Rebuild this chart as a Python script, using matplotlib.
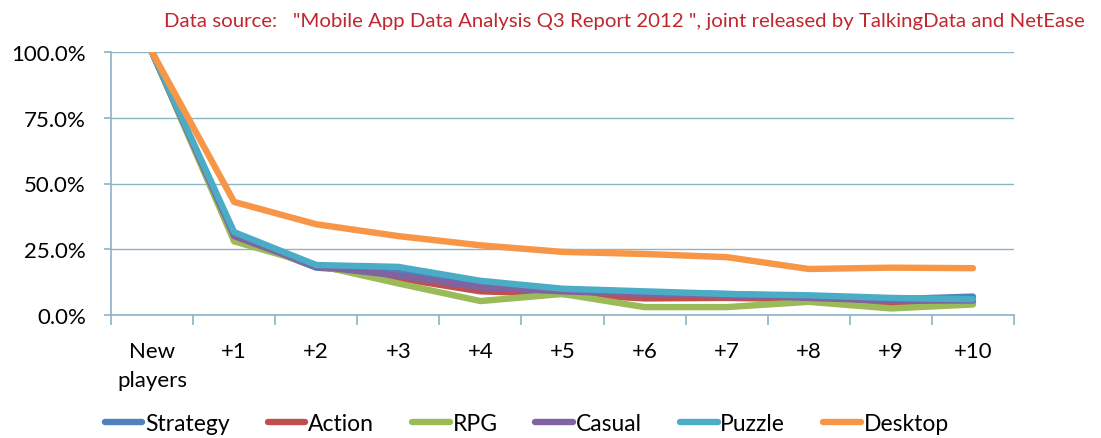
import matplotlib
matplotlib.use("Agg")
import matplotlib.pyplot as plt
from matplotlib.ticker import FixedLocator, PercentFormatter

categories = ["New\nplayers", "+1", "+2", "+3", "+4", "+5", "+6", "+7", "+8", "+9", "+10"]

strategy = [1.0, 0.30, 0.18, 0.16, 0.115, 0.095, 0.085, 0.08, 0.07, 0.06, 0.07]
action = [1.0, 0.295, 0.185, 0.14, 0.09, 0.08, 0.063, 0.065, 0.06, 0.045, 0.05]
rpg = [1.0, 0.28, 0.19, 0.12, 0.053, 0.08, 0.03, 0.03, 0.05, 0.025, 0.04]
casual = [1.0, 0.30, 0.185, 0.15, 0.105, 0.09, 0.08, 0.075, 0.065, 0.055, 0.055]
puzzle = [1.0, 0.315, 0.19, 0.183, 0.13, 0.10, 0.09, 0.08, 0.075, 0.065, 0.06]
desktop = [1.0, 0.43, 0.345, 0.30, 0.265, 0.24, 0.232, 0.22, 0.175, 0.18, 0.178]

names = ["Strategy", "Action", "RPG", "Casual", "Puzzle", "Desktop"]
colors = ["#4F81BD", "#C0504D", "#9BBB59", "#8064A2", "#4BACC6", "#F79646"]

plt.rcParams['font.family'] = ['Lato', 'DejaVu Sans']

fig = plt.figure(figsize=(11.01, 4.39), dpi=100)
ax = fig.add_axes([111/1101, 1 - 316/439, (1014 - 111)/1101, (316 - 53)/439])

x = list(range(len(categories)))
for vals, name, c in zip([strategy, action, rpg, casual, puzzle, desktop], names, colors):
    ax.plot(x, vals, color=c, lw=4.6, label=name, solid_capstyle="round", solid_joinstyle="round")

grid_c = "#8DB3C7"
ax.set_xlim(-0.5, 10.5)
ax.set_ylim(0, 1.0)
ax.yaxis.set_major_locator(FixedLocator([0, 0.25, 0.5, 0.75, 1.0]))
ax.yaxis.set_major_formatter(PercentFormatter(1.0, decimals=1))
ax.grid(axis="y", color=grid_c, lw=1)
ax.set_axisbelow(True)

ax.set_xticks(x)
ax.set_xticklabels(categories, fontsize=16, linespacing=1.55)
ax.set_xticks([i - 0.5 for i in range(len(categories) + 1)], minor=True)
ax.tick_params(axis="x", which="major", length=0, pad=19)
ax.tick_params(axis="x", which="minor", length=7, color=grid_c, width=1.2)
ax.tick_params(axis="y", length=5, color=grid_c, width=1.2, labelsize=16, pad=13)

for s in ["top", "right"]:
    ax.spines[s].set_visible(False)
for s in ["left", "bottom"]:
    ax.spines[s].set_color(grid_c)
    ax.spines[s].set_linewidth(1.2)

fig.text(1085/1101, 0.95, 'Data source:   "Mobile App Data Analysis Q3 Report 2012 ", joint released by TalkingData and NetEase',
         color="#C0272D", fontsize=14.7, ha="right", va="center")

fig.legend(loc="center left", bbox_to_anchor=(84/1101, 0.032), ncol=6, frameon=False,
           fontsize=16.5, handlelength=1.65, handletextpad=0.12, columnspacing=1.65)

fig.savefig("out.png", dpi=100)
